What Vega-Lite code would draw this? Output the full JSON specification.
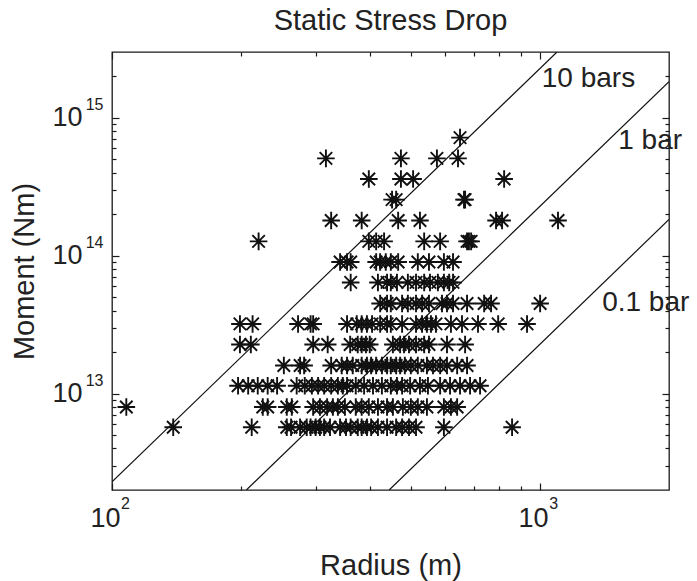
{
"$schema":"https://vega.github.io/schema/vega-lite/v6.json",
"width":557,"height":438,
"autosize":"none",
"padding":{"left":112,"top":52,"right":28,"bottom":91},
"background":"white",
"config":{"font":"Liberation Sans","view":{"stroke":"#1a1a1a","strokeWidth":1.3},"axis":{"domain":false,"grid":false,"minExtent":0,"labelFlush":false,"tickColor":"#1a1a1a","tickWidth":1.2,"labelColor":"#222","titleColor":"#222","labelFont":"Liberation Sans","titleFont":"Liberation Sans"}},
"title":{"text":"Static Stress Drop","fontSize":29,"fontWeight":"normal","color":"#222","baseline":"alphabetic","offset":-10,"anchor":"middle","frame":"group"},
"resolve":{"axis":{"x":"independent","y":"independent"}},
"datasets":{
"events":[
{"r":650,"M":7.18e14},
{"r":316,"M":5.08e14},{"r":473,"M":5.08e14},{"r":574,"M":5.08e14},{"r":643,"M":5.08e14},
{"r":398,"M":3.6e14},{"r":473,"M":3.6e14},{"r":505,"M":3.6e14},{"r":824,"M":3.6e14},
{"r":451,"M":2.55e14},{"r":461,"M":2.55e14},{"r":664,"M":2.55e14},{"r":668,"M":2.55e14},
{"r":325,"M":1.8e14},{"r":383,"M":1.8e14},{"r":466,"M":1.8e14},{"r":524,"M":1.8e14},{"r":789,"M":1.8e14},{"r":815,"M":1.8e14},{"r":1101,"M":1.8e14},
{"r":220,"M":1.27e14},{"r":398,"M":1.27e14},{"r":414,"M":1.27e14},{"r":432,"M":1.27e14},{"r":536,"M":1.27e14},{"r":584,"M":1.27e14},{"r":675,"M":1.27e14},{"r":682,"M":1.27e14},{"r":690,"M":1.27e14},
{"r":341,"M":9.0e13},{"r":354,"M":9.0e13},{"r":361,"M":9.0e13},{"r":414,"M":9.0e13},{"r":423,"M":9.0e13},{"r":436,"M":9.0e13},{"r":448,"M":9.0e13},{"r":466,"M":9.0e13},{"r":518,"M":9.0e13},{"r":550,"M":9.0e13},{"r":596,"M":9.0e13},{"r":626,"M":9.0e13},
{"r":361,"M":6.4e13},{"r":418,"M":6.4e13},{"r":439,"M":6.4e13},{"r":448,"M":6.4e13},{"r":463,"M":6.4e13},{"r":491,"M":6.4e13},{"r":513,"M":6.4e13},{"r":536,"M":6.4e13},{"r":553,"M":6.4e13},{"r":577,"M":6.4e13},{"r":596,"M":6.4e13},{"r":613,"M":6.4e13},{"r":626,"M":6.4e13},
{"r":423,"M":4.5e13},{"r":439,"M":4.5e13},{"r":448,"M":4.5e13},{"r":476,"M":4.5e13},{"r":491,"M":4.5e13},{"r":513,"M":4.5e13},{"r":530,"M":4.5e13},{"r":550,"M":4.5e13},{"r":590,"M":4.5e13},{"r":606,"M":4.5e13},{"r":626,"M":4.5e13},{"r":675,"M":4.5e13},{"r":740,"M":4.5e13},{"r":768,"M":4.5e13},{"r":1000,"M":4.5e13},
{"r":199,"M":3.2e13},{"r":213,"M":3.2e13},{"r":272,"M":3.2e13},{"r":291,"M":3.2e13},{"r":295,"M":3.2e13},{"r":354,"M":3.2e13},{"r":373,"M":3.2e13},{"r":383,"M":3.2e13},{"r":394,"M":3.2e13},{"r":405,"M":3.2e13},{"r":423,"M":3.2e13},{"r":439,"M":3.2e13},{"r":448,"M":3.2e13},{"r":476,"M":3.2e13},{"r":513,"M":3.2e13},{"r":530,"M":3.2e13},{"r":544,"M":3.2e13},{"r":556,"M":3.2e13},{"r":571,"M":3.2e13},{"r":619,"M":3.2e13},{"r":657,"M":3.2e13},{"r":716,"M":3.2e13},{"r":798,"M":3.2e13},{"r":932,"M":3.2e13},
{"r":199,"M":2.27e13},{"r":211,"M":2.27e13},{"r":295,"M":2.27e13},{"r":319,"M":2.27e13},{"r":360,"M":2.27e13},{"r":375,"M":2.27e13},{"r":383,"M":2.27e13},{"r":392,"M":2.27e13},{"r":400,"M":2.27e13},{"r":453,"M":2.27e13},{"r":471,"M":2.27e13},{"r":481,"M":2.27e13},{"r":494,"M":2.27e13},{"r":513,"M":2.27e13},{"r":536,"M":2.27e13},{"r":550,"M":2.27e13},{"r":606,"M":2.27e13},{"r":668,"M":2.27e13},
{"r":252,"M":1.6e13},{"r":275,"M":1.6e13},{"r":281,"M":1.6e13},{"r":325,"M":1.6e13},{"r":344,"M":1.6e13},{"r":354,"M":1.6e13},{"r":365,"M":1.6e13},{"r":383,"M":1.6e13},{"r":394,"M":1.6e13},{"r":403,"M":1.6e13},{"r":414,"M":1.6e13},{"r":427,"M":1.6e13},{"r":439,"M":1.6e13},{"r":448,"M":1.6e13},{"r":461,"M":1.6e13},{"r":471,"M":1.6e13},{"r":483,"M":1.6e13},{"r":499,"M":1.6e13},{"r":518,"M":1.6e13},{"r":544,"M":1.6e13},{"r":562,"M":1.6e13},{"r":584,"M":1.6e13},{"r":606,"M":1.6e13},{"r":640,"M":1.6e13},{"r":675,"M":1.6e13},
{"r":197,"M":1.14e13},{"r":208,"M":1.14e13},{"r":219,"M":1.14e13},{"r":231,"M":1.14e13},{"r":243,"M":1.14e13},{"r":270,"M":1.14e13},{"r":282,"M":1.14e13},{"r":293,"M":1.14e13},{"r":303,"M":1.14e13},{"r":313,"M":1.14e13},{"r":325,"M":1.14e13},{"r":337,"M":1.14e13},{"r":346,"M":1.14e13},{"r":354,"M":1.14e13},{"r":371,"M":1.14e13},{"r":388,"M":1.14e13},{"r":407,"M":1.14e13},{"r":427,"M":1.14e13},{"r":448,"M":1.14e13},{"r":463,"M":1.14e13},{"r":476,"M":1.14e13},{"r":497,"M":1.14e13},{"r":524,"M":1.14e13},{"r":547,"M":1.14e13},{"r":584,"M":1.14e13},{"r":616,"M":1.14e13},{"r":650,"M":1.14e13},{"r":686,"M":1.14e13},{"r":724,"M":1.14e13},
{"r":108,"M":8.0e12},{"r":225,"M":8.0e12},{"r":231,"M":8.0e12},{"r":256,"M":8.0e12},{"r":263,"M":8.0e12},{"r":295,"M":8.0e12},{"r":306,"M":8.0e12},{"r":318,"M":8.0e12},{"r":328,"M":8.0e12},{"r":337,"M":8.0e12},{"r":350,"M":8.0e12},{"r":371,"M":8.0e12},{"r":383,"M":8.0e12},{"r":398,"M":8.0e12},{"r":418,"M":8.0e12},{"r":439,"M":8.0e12},{"r":453,"M":8.0e12},{"r":478,"M":8.0e12},{"r":499,"M":8.0e12},{"r":518,"M":8.0e12},{"r":544,"M":8.0e12},{"r":596,"M":8.0e12},{"r":619,"M":8.0e12},{"r":640,"M":8.0e12},
{"r":139,"M":5.7e12},{"r":212,"M":5.7e12},{"r":256,"M":5.7e12},{"r":262,"M":5.7e12},{"r":275,"M":5.7e12},{"r":285,"M":5.7e12},{"r":291,"M":5.7e12},{"r":299,"M":5.7e12},{"r":306,"M":5.7e12},{"r":313,"M":5.7e12},{"r":323,"M":5.7e12},{"r":341,"M":5.7e12},{"r":352,"M":5.7e12},{"r":361,"M":5.7e12},{"r":375,"M":5.7e12},{"r":383,"M":5.7e12},{"r":394,"M":5.7e12},{"r":403,"M":5.7e12},{"r":418,"M":5.7e12},{"r":439,"M":5.7e12},{"r":461,"M":5.7e12},{"r":476,"M":5.7e12},{"r":494,"M":5.7e12},{"r":513,"M":5.7e12},{"r":596,"M":5.7e12},{"r":860,"M":5.7e12}
],
"lines":[
{"line":"10 bars","r":100,"M":2.29e12},{"line":"10 bars","r":1095,"M":3e15},
{"line":"1 bar","r":206,"M":2e12},{"line":"1 bar","r":2000,"M":1.83e15},
{"line":"0.1 bar","r":444,"M":2e12},{"line":"0.1 bar","r":2000,"M":1.83e14}
],
"labels":[
{"label":"10 bars","r":1009,"M":1.9e15},
{"label":"1 bar","r":1522,"M":6.75e14},
{"label":"0.1 bar","r":1396,"M":4.57e13}
]
},
"layer":[
{"data":{"name":"events"},
 "mark":{"type":"point","shape":"M0,-1L0,1M-1,0L1,0M-0.71,-0.71L0.71,0.71M-0.71,0.71L0.71,-0.71","size":310,"filled":false,"stroke":"#111","strokeWidth":1.9,"opacity":1},
 "encoding":{
  "x":{"field":"r","type":"quantitative","scale":{"type":"log","domain":[100,2000],"nice":false},
   "axis":{"orient":"bottom","values":[100,1000],"labelExpr":"'10'","labelFontSize":27,"labelPadding":22,"labelOffset":-7,"tickSize":-7,"title":"Radius (m)","titleFontSize":29,"titleFontWeight":"normal","titlePadding":20}},
  "y":{"field":"M","type":"quantitative","scale":{"type":"log","domain":[2e12,3e15],"nice":false},
   "axis":{"orient":"left","values":[1e13,1e14,1e15],"labelExpr":"'10'","labelFontSize":27,"labelPadding":37,"labelBaseline":"middle","tickSize":-7,"title":"Moment (Nm)","titleFontSize":29,"titleFontWeight":"normal","titlePadding":12}}
 }},
{"data":{"name":"lines"},
 "mark":{"type":"line","stroke":"#111","strokeWidth":1.2,"clip":true},
 "encoding":{
  "x":{"field":"r","type":"quantitative","axis":{"orient":"bottom","values":[200,300,400,500,600,700,800,900],"labels":false,"tickSize":-4,"title":null}},
  "y":{"field":"M","type":"quantitative","axis":{"orient":"left","values":[3e12,4e12,5e12,6e12,7e12,8e12,9e12,2e13,3e13,4e13,5e13,6e13,7e13,8e13,9e13,2e14,3e14,4e14,5e14,6e14,7e14,8e14,9e14,2e15],"labels":false,"tickSize":-4,"title":null}},
  "detail":{"field":"line"}
 }},
{"data":{"name":"labels"},
 "mark":{"type":"text","align":"left","baseline":"middle","fontSize":28,"color":"#222","font":"Liberation Sans"},
 "encoding":{
  "x":{"field":"r","type":"quantitative","axis":{"orient":"top","values":[100,1000],"labels":false,"tickSize":-7,"title":null}},
  "y":{"field":"M","type":"quantitative","axis":{"orient":"right","values":[1e13,1e14,1e15],"labels":false,"tickSize":-7,"title":null}},
  "text":{"field":"label"}
 }},
{"data":{"name":"lines"},
 "mark":{"type":"point","opacity":0},
 "encoding":{
  "x":{"field":"r","type":"quantitative","axis":{"orient":"top","values":[200,300,400,500,600,700,800,900],"labels":false,"tickSize":-4,"title":null}},
  "y":{"field":"M","type":"quantitative","axis":{"orient":"right","values":[3e12,4e12,5e12,6e12,7e12,8e12,9e12,2e13,3e13,4e13,5e13,6e13,7e13,8e13,9e13,2e14,3e14,4e14,5e14,6e14,7e14,8e14,9e14,2e15],"labels":false,"tickSize":-4,"title":null}}
 }},
{"data":{"name":"lines"},
 "mark":{"type":"point","opacity":0},
 "encoding":{
  "x":{"field":"r","type":"quantitative","axis":{"orient":"bottom","values":[100,1000],"ticks":false,"tickSize":0,"labelExpr":"datum.value < 500 ? '2' : '3'","labelFontSize":16,"labelPadding":5,"labelOffset":13,"title":null}},
  "y":{"field":"M","type":"quantitative","axis":{"orient":"left","values":[1e13,1e14,1e15],"ticks":false,"tickSize":0,"labelExpr":"datum.value > 5e14 ? '15' : datum.value > 5e13 ? '14' : '13'","labelFontSize":16,"labelPadding":9,"labelBaseline":"middle","labelOffset":-13,"title":null}}
 }}
]
}
